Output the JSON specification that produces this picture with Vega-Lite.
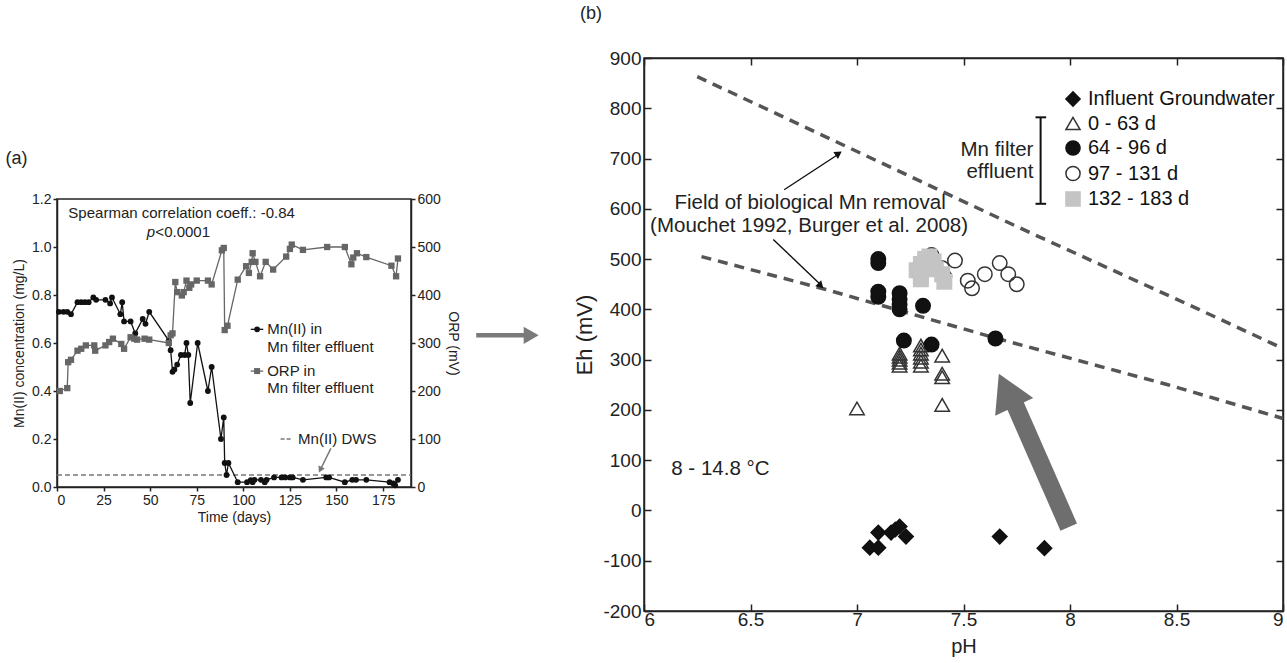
{
  "$schema": "https://vega.github.io/schema/vega-lite/v6.json",
  "padding": {"left": 4, "top": 4, "right": 0, "bottom": 0},
  "config": {
    "font": "Liberation Sans",
    "view": {"stroke": "#222", "strokeWidth": 1.5},
    "axis": {"domainColor": "#222", "tickColor": "#222", "labelColor": "#222", "titleColor": "#222", "grid": false, "titleFontWeight": "normal", "domainWidth": 1.5, "tickWidth": 1.5}
  },
  "spacing": 33,
  "hconcat": [
    {
      "spacing": 0,
      "vconcat": [
        {
          "width": 354, "height": 91,
          "view": {"stroke": null},
          "data": {"values": []},
          "mark": "point"
        },
        {
          "width": 354, "height": 288,
          "title": {"text": "(a)", "anchor": "start", "frame": "bounds", "fontSize": 18, "fontWeight": "normal", "offset": 24, "dx": -7, "color": "#222"},
          "resolve": {"scale": {"y": "independent"}},
          "layer": [
            {
              "encoding": {
                "x": {"field": "day", "type": "quantitative", "scale": {"domain": [0, 190], "nice": false},
                  "axis": {"values": [0, 25, 50, 75, 100, 125, 150, 175], "title": "Time (days)", "labelFontSize": 14, "titleFontSize": 14, "tickSize": 4, "labelPadding": 2, "titlePadding": 3}},
                "y": {"field": "mn", "type": "quantitative", "scale": {"domain": [0, 1.2], "nice": false},
                  "axis": {"values": [0, 0.2, 0.4, 0.6, 0.8, 1.0, 1.2], "format": ".1f", "title": "Mn(II) concentration (mg/L)", "labelFontSize": 14, "titleFontSize": 14, "tickSize": 4, "labelPadding": 2, "titlePadding": 5}}
              },
              "layer": [
                {"data": {"values": [{"day": 0, "mn": 0.05}, {"day": 190, "mn": 0.05}]},
                 "mark": {"type": "line", "color": "#777", "strokeDash": [5, 3], "strokeWidth": 1.3}},
                {"data": {"name": "mn"}, "mark": {"type": "line", "color": "#111", "strokeWidth": 1.3}},
                {"data": {"name": "mn"}, "mark": {"type": "point", "filled": true, "color": "#111", "size": 34, "opacity": 1}},
                {"data": {"values": [{"day": 104, "mn": 0.657}, {"day": 110.7, "mn": 0.657}]},
                 "mark": {"type": "line", "color": "#111", "strokeWidth": 1.3}},
                {"data": {"values": [{"day": 107.4, "mn": 0.657}]},
                 "mark": {"type": "point", "filled": true, "color": "#111", "size": 34, "opacity": 1}},
                {"data": {"values": [{"day": 104, "mn": 0.483}, {"day": 110.7, "mn": 0.483}]},
                 "mark": {"type": "line", "color": "#666", "strokeWidth": 1.3}},
                {"data": {"values": [{"day": 107.4, "mn": 0.483}]},
                 "mark": {"type": "square", "color": "#666", "size": 36, "opacity": 1}},
                {"data": {"values": [{"day": 120, "mn": 0.2}, {"day": 125.6, "mn": 0.2}]},
                 "mark": {"type": "line", "color": "#777", "strokeDash": [4, 2], "strokeWidth": 1.3}},
                {"data": {"values": [
                  {"day": 6.1, "mn": 1.14, "label": "Spearman correlation coeff.: -0.84"},
                  {"day": 52.8, "mn": 1.063, "label": "<0.0001"},
                  {"day": 112.8, "mn": 0.657, "label": "Mn(II) in"},
                  {"day": 112.8, "mn": 0.583, "label": "Mn filter effluent"},
                  {"day": 112.8, "mn": 0.483, "label": "ORP in"},
                  {"day": 112.8, "mn": 0.414, "label": "Mn filter effluent"},
                  {"day": 129.4, "mn": 0.2, "label": "Mn(II) DWS"}
                 ]},
                 "mark": {"type": "text", "align": "left", "baseline": "middle", "fontSize": 15, "color": "#222"},
                 "encoding": {"text": {"field": "label"}}},
                {"data": {"values": [{"day": 52.6, "mn": 1.063, "label": "p"}]},
                 "mark": {"type": "text", "align": "right", "baseline": "middle", "fontSize": 15, "fontStyle": "italic", "color": "#222"},
                 "encoding": {"text": {"field": "label"}}},
                {"data": {"values": [{"day": 147, "mn": 0.161}, {"day": 141.6, "mn": 0.076}]},
                 "mark": {"type": "line", "color": "#777", "strokeWidth": 1.5}},
                {"data": {"values": [{"day": 141.3, "mn": 0.072}]},
                 "mark": {"type": "point", "shape": "triangle-down", "filled": true, "color": "#777", "size": 50, "angle": 27, "opacity": 1}},
                {"data": {"values": [{"day": 225, "mn": 0.632}, {"day": 252, "mn": 0.632}]},
                 "mark": {"type": "line", "color": "#7a7a7a", "strokeWidth": 4.5}},
                {"data": {"values": [{"day": 254.5, "mn": 0.632}]},
                 "mark": {"type": "point", "shape": "triangle-right", "filled": true, "color": "#7a7a7a", "size": 300, "opacity": 1}}
              ]
            },
            {
              "data": {"name": "orp"},
              "encoding": {
                "x": {"field": "day", "type": "quantitative"},
                "y": {"field": "orp", "type": "quantitative", "scale": {"domain": [0, 600], "nice": false},
                  "axis": {"orient": "right", "values": [0, 100, 200, 300, 400, 500, 600], "title": "ORP (mV)", "labelFontSize": 14, "titleFontSize": 14, "tickSize": 4, "labelPadding": 2, "titlePadding": 5}}
              },
              "layer": [
                {"mark": {"type": "line", "color": "#666", "strokeWidth": 1.3}},
                {"mark": {"type": "square", "color": "#666", "size": 40, "opacity": 1}}
              ]
            }
          ]
        }
      ]
    },
    {
      "width": 639, "height": 553,
      "title": {"text": "(b)", "anchor": "start", "frame": "bounds", "fontSize": 18, "fontWeight": "normal", "offset": 26, "dx": 6, "color": "#222"},
      "resolve": {"axis": {"x": "independent", "y": "independent"}},
      "encoding": {
        "x": {"field": "ph", "type": "quantitative", "scale": {"domain": [6, 9], "nice": false}, "axis": null},
        "y": {"field": "eh", "type": "quantitative", "scale": {"domain": [-200, 900], "nice": false}, "axis": null}
      },
      "layer": [
        {
          "data": {"name": "bounds"},
          "mark": {"type": "line", "color": "#555", "strokeDash": [10, 7], "strokeWidth": 3.5},
          "encoding": {
            "x": {"field": "ph", "type": "quantitative", "axis": {"orient": "top", "values": [6, 6.5, 7, 7.5, 8, 8.5, 9], "labels": false, "tickSize": -7, "title": null}},
            "y": {"field": "eh", "type": "quantitative", "axis": {"orient": "right", "values": [-200, -100, 0, 100, 200, 300, 400, 500, 600, 700, 800, 900], "labels": false, "tickSize": -7, "title": null, "minExtent": 0, "maxExtent": 0}},
            "detail": {"field": "seg"}
          }
        },
        {
          "data": {"name": "pts"},
          "mark": {"type": "point", "size": 210, "strokeWidth": 1.5, "opacity": 1},
          "encoding": {
            "x": {"field": "ph", "type": "quantitative",
              "axis": {"values": [6, 6.5, 7, 7.5, 8, 8.5, 9], "labelExpr": "datum.value + ''", "labelFlush": true, "title": "pH", "labelFontSize": 19, "titleFontSize": 20, "tickSize": -7, "labelPadding": 6, "titlePadding": 7}},
            "y": {"field": "eh", "type": "quantitative",
              "axis": {"values": [-200, -100, 0, 100, 200, 300, 400, 500, 600, 700, 800, 900], "labelExpr": "datum.value + ''", "title": "Eh (mV)", "labelFontSize": 19, "titleFontSize": 22, "tickSize": -7, "labelPadding": 10, "titlePadding": 6}},
            "shape": {"field": "g", "type": "nominal",
              "scale": {"domain": ["Influent Groundwater", "0 - 63 d", "64 - 96 d", "97 - 131 d", "132 - 183 d"], "range": ["diamond", "triangle-up", "circle", "circle", "square"]},
              "legend": {"title": null, "orient": "none", "legendX": 1006, "legendY": 31, "labelFontSize": 20, "labelLimit": 400, "symbolSize": 200, "rowPadding": 3.5, "labelOffset": 5, "padding": 0, "symbolStrokeWidth": 1.5, "labelColor": "#111"}},
            "fill": {"field": "g", "type": "nominal",
              "scale": {"domain": ["Influent Groundwater", "0 - 63 d", "64 - 96 d", "97 - 131 d", "132 - 183 d"], "range": ["#111", "transparent", "#111", "transparent", "#c4c4c4"]},
              "legend": {"title": null, "orient": "none", "legendX": 1006, "legendY": 31, "labelFontSize": 20, "labelLimit": 400, "symbolSize": 200, "rowPadding": 3.5, "labelOffset": 5, "padding": 0, "symbolStrokeWidth": 1.5, "labelColor": "#111"}},
            "stroke": {"field": "g", "type": "nominal",
              "scale": {"domain": ["Influent Groundwater", "0 - 63 d", "64 - 96 d", "97 - 131 d", "132 - 183 d"], "range": ["#111", "#333", "#111", "#333", "#c4c4c4"]},
              "legend": {"title": null, "orient": "none", "legendX": 1006, "legendY": 31, "labelFontSize": 20, "labelLimit": 400, "symbolSize": 200, "rowPadding": 3.5, "labelOffset": 5, "padding": 0, "symbolStrokeWidth": 1.5, "labelColor": "#111"}}
          }
        },
        {
          "data": {"values": [
            {"ph": 6.78, "eh": 612, "label": "Field of biological Mn removal"},
            {"ph": 6.775, "eh": 565, "label": "(Mouchet 1992, Burger et al. 2008)"}
          ]},
          "mark": {"type": "text", "align": "center", "baseline": "middle", "fontSize": 20.5, "color": "#222"},
          "encoding": {"text": {"field": "label"}}
        },
        {
          "data": {"values": [{"ph": 6.128, "eh": 83, "label": "8 - 14.8 °C"}]},
          "mark": {"type": "text", "align": "left", "baseline": "middle", "fontSize": 20.5, "color": "#222"},
          "encoding": {"text": {"field": "label"}}
        },
        {
          "data": {"values": [
            {"ph": 7.828, "eh": 717, "label": "Mn filter"},
            {"ph": 7.828, "eh": 673, "label": "effluent"}
          ]},
          "mark": {"type": "text", "align": "right", "baseline": "middle", "fontSize": 20.5, "color": "#222"},
          "encoding": {"text": {"field": "label"}}
        },
        {
          "data": {"values": [{"ph": 7.862, "eh": 610, "eh2": 782}]},
          "mark": {"type": "rule", "strokeWidth": 2, "color": "#111"},
          "encoding": {"y2": {"field": "eh2"}}
        },
        {
          "data": {"values": [{"ph": 7.838, "ph2": 7.888, "eh": 610}, {"ph": 7.838, "ph2": 7.888, "eh": 782}]},
          "mark": {"type": "rule", "strokeWidth": 2, "color": "#111"},
          "encoding": {"x2": {"field": "ph2"}}
        },
        {
          "data": {"values": [{"ph": 6.658, "eh": 638, "ph2": 6.918, "eh2": 710}, {"ph": 6.607, "eh": 539, "ph2": 6.832, "eh2": 448}]},
          "mark": {"type": "rule", "strokeWidth": 1.4, "color": "#111"},
          "encoding": {"x2": {"field": "ph2"}, "y2": {"field": "eh2"}}
        },
        {
          "data": {"values": [{"ph": 6.914, "eh": 710}]},
          "mark": {"type": "point", "shape": "triangle-up", "filled": true, "color": "#111", "size": 70, "angle": 57, "opacity": 1}
        },
        {
          "data": {"values": [{"ph": 6.83, "eh": 447}]},
          "mark": {"type": "point", "shape": "triangle-up", "filled": true, "color": "#111", "size": 70, "angle": 135, "opacity": 1}
        },
        {
          "data": {"values": [{"ph": 7.994, "eh": -33, "ph2": 7.74, "eh2": 212}]},
          "mark": {"type": "rule", "strokeWidth": 18, "color": "#6e6e6e", "strokeCap": "butt"},
          "encoding": {"x2": {"field": "ph2"}, "y2": {"field": "eh2"}}
        },
        {
          "data": {"values": [{"ph": 7.702, "eh": 239}]},
          "mark": {"type": "point", "shape": "triangle-up", "filled": true, "color": "#6e6e6e", "size": 1764, "angle": 335, "opacity": 1}
        }
      ]
    }
  ],
  "datasets": {
    "mn": [
      {"day": 1, "mn": 0.73}, {"day": 3.5, "mn": 0.73}, {"day": 5.5, "mn": 0.73}, {"day": 7.5, "mn": 0.72},
      {"day": 11, "mn": 0.77}, {"day": 13, "mn": 0.77}, {"day": 15, "mn": 0.77}, {"day": 17, "mn": 0.77},
      {"day": 19.5, "mn": 0.79}, {"day": 21, "mn": 0.78}, {"day": 26, "mn": 0.78}, {"day": 28.5, "mn": 0.765},
      {"day": 29.5, "mn": 0.79}, {"day": 34, "mn": 0.72}, {"day": 35, "mn": 0.77}, {"day": 36, "mn": 0.69},
      {"day": 39.5, "mn": 0.69}, {"day": 42, "mn": 0.64}, {"day": 46, "mn": 0.70}, {"day": 47.5, "mn": 0.68},
      {"day": 49.5, "mn": 0.73}, {"day": 60, "mn": 0.61}, {"day": 61, "mn": 0.57}, {"day": 62, "mn": 0.48},
      {"day": 63, "mn": 0.49}, {"day": 64.5, "mn": 0.51}, {"day": 66.5, "mn": 0.55}, {"day": 68.5, "mn": 0.55},
      {"day": 69.5, "mn": 0.60}, {"day": 70.5, "mn": 0.55}, {"day": 71.5, "mn": 0.35}, {"day": 75.5, "mn": 0.60},
      {"day": 81, "mn": 0.40}, {"day": 83, "mn": 0.50}, {"day": 88, "mn": 0.20}, {"day": 89.5, "mn": 0.29},
      {"day": 90, "mn": 0.10}, {"day": 91, "mn": 0.05}, {"day": 92, "mn": 0.10}, {"day": 97, "mn": 0.02},
      {"day": 102, "mn": 0.02}, {"day": 104, "mn": 0.028}, {"day": 105, "mn": 0.02}, {"day": 106, "mn": 0.03},
      {"day": 109.5, "mn": 0.03}, {"day": 111.5, "mn": 0.02}, {"day": 112.5, "mn": 0.03}, {"day": 116.5, "mn": 0.04},
      {"day": 120.5, "mn": 0.04}, {"day": 122.5, "mn": 0.04}, {"day": 125, "mn": 0.04}, {"day": 126.5, "mn": 0.04},
      {"day": 132, "mn": 0.03}, {"day": 144.5, "mn": 0.04}, {"day": 146, "mn": 0.04}, {"day": 154.5, "mn": 0.02},
      {"day": 158.5, "mn": 0.03}, {"day": 160.5, "mn": 0.03}, {"day": 166, "mn": 0.03}, {"day": 178.5, "mn": 0.02},
      {"day": 180.5, "mn": 0.015}, {"day": 181.5, "mn": 0.007}, {"day": 183, "mn": 0.03}
    ],
    "orp": [
      {"day": 1.5, "orp": 200}, {"day": 5.5, "orp": 206}, {"day": 6, "orp": 260}, {"day": 7.5, "orp": 265},
      {"day": 11, "orp": 284}, {"day": 13, "orp": 288}, {"day": 15.5, "orp": 295}, {"day": 20, "orp": 295},
      {"day": 20.5, "orp": 284}, {"day": 26, "orp": 295}, {"day": 28, "orp": 302}, {"day": 30, "orp": 309},
      {"day": 34.5, "orp": 298}, {"day": 36, "orp": 288}, {"day": 39.5, "orp": 312}, {"day": 41.5, "orp": 309},
      {"day": 43, "orp": 307}, {"day": 47, "orp": 309}, {"day": 49.5, "orp": 307}, {"day": 60, "orp": 300},
      {"day": 61, "orp": 316}, {"day": 62, "orp": 320}, {"day": 63.5, "orp": 427}, {"day": 64.5, "orp": 406},
      {"day": 67, "orp": 399}, {"day": 68, "orp": 406}, {"day": 69.5, "orp": 430}, {"day": 71, "orp": 415},
      {"day": 72, "orp": 422}, {"day": 75, "orp": 430}, {"day": 81, "orp": 430}, {"day": 83, "orp": 422},
      {"day": 88.5, "orp": 493}, {"day": 89.5, "orp": 498}, {"day": 90, "orp": 327}, {"day": 91.5, "orp": 336},
      {"day": 97, "orp": 432}, {"day": 101.5, "orp": 460}, {"day": 103, "orp": 446}, {"day": 104.5, "orp": 469},
      {"day": 105, "orp": 487}, {"day": 106.5, "orp": 469}, {"day": 109, "orp": 439}, {"day": 112, "orp": 469},
      {"day": 116, "orp": 453}, {"day": 123, "orp": 480}, {"day": 125, "orp": 496}, {"day": 126, "orp": 505},
      {"day": 132, "orp": 494}, {"day": 145, "orp": 500}, {"day": 154.5, "orp": 500}, {"day": 158, "orp": 464},
      {"day": 159, "orp": 478}, {"day": 161, "orp": 487}, {"day": 166, "orp": 479}, {"day": 179.5, "orp": 461},
      {"day": 182, "orp": 439}, {"day": 183, "orp": 476}
    ],
    "bounds": [
      {"seg": "upper", "ph": 6.25, "eh": 863}, {"seg": "upper", "ph": 6.93, "eh": 728}, {"seg": "upper", "ph": 7.8, "eh": 555},
      {"seg": "upper", "ph": 8.6, "eh": 401}, {"seg": "upper", "ph": 9.0, "eh": 322},
      {"seg": "lower", "ph": 6.27, "eh": 505}, {"seg": "lower", "ph": 6.85, "eh": 440}, {"seg": "lower", "ph": 7.65, "eh": 343},
      {"seg": "lower", "ph": 8.46, "eh": 250}, {"seg": "lower", "ph": 9.0, "eh": 183}
    ],
    "pts": [
      {"g": "Influent Groundwater", "ph": 7.06, "eh": -74}, {"g": "Influent Groundwater", "ph": 7.10, "eh": -74},
      {"g": "Influent Groundwater", "ph": 7.10, "eh": -44}, {"g": "Influent Groundwater", "ph": 7.16, "eh": -44},
      {"g": "Influent Groundwater", "ph": 7.18, "eh": -38}, {"g": "Influent Groundwater", "ph": 7.20, "eh": -32},
      {"g": "Influent Groundwater", "ph": 7.23, "eh": -52}, {"g": "Influent Groundwater", "ph": 7.67, "eh": -52},
      {"g": "Influent Groundwater", "ph": 7.88, "eh": -75},
      {"g": "0 - 63 d", "ph": 7.0, "eh": 203}, {"g": "0 - 63 d", "ph": 7.2, "eh": 288}, {"g": "0 - 63 d", "ph": 7.2, "eh": 294},
      {"g": "0 - 63 d", "ph": 7.2, "eh": 300}, {"g": "0 - 63 d", "ph": 7.2, "eh": 306}, {"g": "0 - 63 d", "ph": 7.2, "eh": 312},
      {"g": "0 - 63 d", "ph": 7.3, "eh": 288}, {"g": "0 - 63 d", "ph": 7.3, "eh": 296}, {"g": "0 - 63 d", "ph": 7.3, "eh": 304},
      {"g": "0 - 63 d", "ph": 7.3, "eh": 312}, {"g": "0 - 63 d", "ph": 7.3, "eh": 320}, {"g": "0 - 63 d", "ph": 7.3, "eh": 328},
      {"g": "0 - 63 d", "ph": 7.4, "eh": 308}, {"g": "0 - 63 d", "ph": 7.4, "eh": 272}, {"g": "0 - 63 d", "ph": 7.4, "eh": 265},
      {"g": "0 - 63 d", "ph": 7.4, "eh": 210},
      {"g": "64 - 96 d", "ph": 7.1, "eh": 500}, {"g": "64 - 96 d", "ph": 7.1, "eh": 492}, {"g": "64 - 96 d", "ph": 7.1, "eh": 435},
      {"g": "64 - 96 d", "ph": 7.1, "eh": 425}, {"g": "64 - 96 d", "ph": 7.2, "eh": 432}, {"g": "64 - 96 d", "ph": 7.2, "eh": 420},
      {"g": "64 - 96 d", "ph": 7.2, "eh": 410}, {"g": "64 - 96 d", "ph": 7.2, "eh": 400}, {"g": "64 - 96 d", "ph": 7.31, "eh": 407},
      {"g": "64 - 96 d", "ph": 7.22, "eh": 338}, {"g": "64 - 96 d", "ph": 7.35, "eh": 330}, {"g": "64 - 96 d", "ph": 7.65, "eh": 342},
      {"g": "97 - 131 d", "ph": 7.35, "eh": 508}, {"g": "97 - 131 d", "ph": 7.4, "eh": 482}, {"g": "97 - 131 d", "ph": 7.41, "eh": 465},
      {"g": "97 - 131 d", "ph": 7.46, "eh": 497}, {"g": "97 - 131 d", "ph": 7.52, "eh": 457}, {"g": "97 - 131 d", "ph": 7.54, "eh": 442},
      {"g": "97 - 131 d", "ph": 7.6, "eh": 470}, {"g": "97 - 131 d", "ph": 7.67, "eh": 492}, {"g": "97 - 131 d", "ph": 7.71, "eh": 470},
      {"g": "97 - 131 d", "ph": 7.75, "eh": 450},
      {"g": "132 - 183 d", "ph": 7.28, "eh": 478}, {"g": "132 - 183 d", "ph": 7.3, "eh": 466}, {"g": "132 - 183 d", "ph": 7.3, "eh": 490},
      {"g": "132 - 183 d", "ph": 7.32, "eh": 500}, {"g": "132 - 183 d", "ph": 7.34, "eh": 505}, {"g": "132 - 183 d", "ph": 7.36, "eh": 495},
      {"g": "132 - 183 d", "ph": 7.37, "eh": 480}, {"g": "132 - 183 d", "ph": 7.4, "eh": 470}, {"g": "132 - 183 d", "ph": 7.41, "eh": 455},
      {"g": "132 - 183 d", "ph": 7.3, "eh": 460}
    ]
  }
}
